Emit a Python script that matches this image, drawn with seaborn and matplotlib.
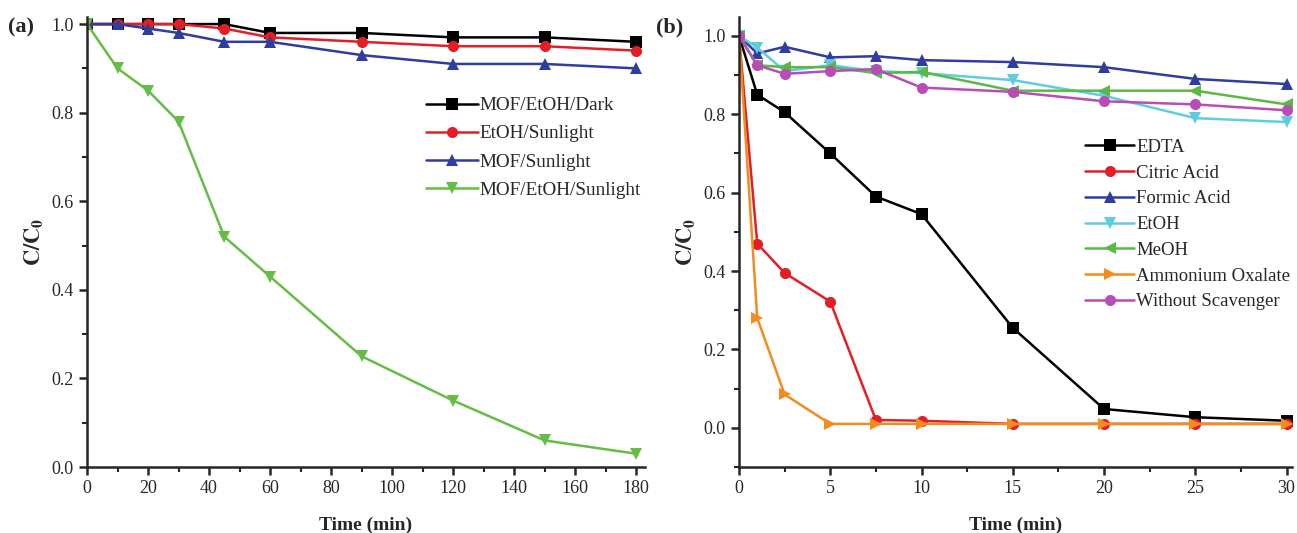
import pandas as pd
import numpy as np
import matplotlib.pyplot as plt
import seaborn as sns
from matplotlib.ticker import MultipleLocator

# ---------- datos panel (a) ----------
tiempo_a = [0, 10, 20, 30, 45, 60, 90, 120, 150, 180]
mof_etoh_dark = [1.0, 1.0, 1.0, 1.0, 1.0, 0.98, 0.98, 0.97, 0.97, 0.96]
etoh_sun = [1.0, 1.0, 1.0, 1.0, 0.99, 0.97, 0.96, 0.95, 0.95, 0.94]
mof_sun = [1.0, 1.0, 0.99, 0.98, 0.96, 0.96, 0.93, 0.91, 0.91, 0.90]
mof_etoh_sun = [1.0, 0.90, 0.85, 0.78, 0.52, 0.43, 0.25, 0.15, 0.06, 0.03]
series_a = ['MOF/EtOH/Dark', 'EtOH/Sunlight', 'MOF/Sunlight', 'MOF/EtOH/Sunlight']

# ---------- datos panel (b) ----------
tiempo_b = [0, 1, 2.5, 5, 7.5, 10, 15, 20, 25, 30]
edta = [1.0, 0.85, 0.805, 0.70, 0.59, 0.545, 0.255, 0.048, 0.027, 0.018]
citric = [1.0, 0.47, 0.395, 0.322, 0.02, 0.018, 0.01, 0.01, 0.01, 0.01]
formic = [1.0, 0.955, 0.972, 0.945, 0.948, 0.938, 0.933, 0.92, 0.89, 0.877]
etoh = [1.0, 0.97, 0.91, 0.925, 0.91, 0.905, 0.887, 0.847, 0.79, 0.78]
meoh = [1.0, 0.925, 0.92, 0.92, 0.905, 0.908, 0.86, 0.86, 0.86, 0.825]
oxalate = [1.0, 0.28, 0.085, 0.01, 0.01, 0.01, 0.01, 0.01, 0.01, 0.01]
without = [1.0, 0.925, 0.903, 0.91, 0.915, 0.868, 0.857, 0.833, 0.825, 0.81]
series_b = ['EDTA', 'Citric Acid', 'Formic Acid', 'EtOH', 'MeOH',
            'Ammonium Oxalate', 'Without Scavenger']

colores_a = {'MOF/EtOH/Dark': '#000000', 'EtOH/Sunlight': '#e41e26',
             'MOF/Sunlight': '#2e3d9e', 'MOF/EtOH/Sunlight': '#66bd45'}
marcadores_a = {'MOF/EtOH/Dark': 's', 'EtOH/Sunlight': 'o',
                'MOF/Sunlight': '^', 'MOF/EtOH/Sunlight': 'v'}
colores_b = {'EDTA': '#000000', 'Citric Acid': '#e41e26', 'Formic Acid': '#2e3d9e',
             'EtOH': '#5fcde0', 'MeOH': '#5cb846', 'Ammonium Oxalate': '#f28c1f',
             'Without Scavenger': '#b84db5'}
marcadores_b = {'EDTA': 's', 'Citric Acid': 'o', 'Formic Acid': '^', 'EtOH': 'v',
                'MeOH': '<', 'Ammonium Oxalate': '>', 'Without Scavenger': 'o'}

########### construccion de dataframes ###########
da = pd.DataFrame({'t': tiempo_a * 4,
                   'C': mof_etoh_dark + etoh_sun + mof_sun + mof_etoh_sun,
                   'serie': np.repeat(series_a, len(tiempo_a))})
db = pd.DataFrame({'t': tiempo_b * 7,
                   'C': edta + citric + formic + etoh + meoh + oxalate + without,
                   'serie': np.repeat(series_b, len(tiempo_b))})

sns.set_style('ticks')
plt.rcParams['font.family'] = ['Liberation Serif', 'DejaVu Serif']
plt.rcParams['mathtext.fontset'] = 'stix'
plt.rcParams['xtick.direction'] = 'out'
plt.rcParams['ytick.direction'] = 'out'

fig = plt.figure(figsize=(12.97, 5.33), dpi=100)
ax1 = fig.add_axes([87 / 1297, 1 - 467 / 533, 558 / 1297, 450 / 533])
ax2 = fig.add_axes([739 / 1297, 1 - 467 / 533, 553 / 1297, 450 / 533])

sns.lineplot(data=da, x='t', y='C', hue='serie', style='serie', hue_order=series_a,
             style_order=series_a, palette=colores_a, markers=marcadores_a,
             dashes=False, markersize=8, markeredgewidth=0, linewidth=1.8, ax=ax1)
sns.lineplot(data=db, x='t', y='C', hue='serie', style='serie', hue_order=series_b,
             style_order=series_b, palette=colores_b, markers=marcadores_b,
             dashes=False, markersize=8, markeredgewidth=0, linewidth=1.8, ax=ax2)

ax1.set_xlim(0, 182.9)
ax1.set_ylim(0, 1.016)
ax1.xaxis.set_major_locator(MultipleLocator(20))
ax1.xaxis.set_minor_locator(MultipleLocator(10))
ax1.yaxis.set_major_locator(MultipleLocator(0.2))
ax1.yaxis.set_minor_locator(MultipleLocator(0.1))

ax2.set_xlim(0, 30.3)
ax2.set_ylim(-0.1, 1.048)
ax2.xaxis.set_major_locator(MultipleLocator(5))
ax2.xaxis.set_minor_locator(MultipleLocator(2.5))
ax2.yaxis.set_major_locator(MultipleLocator(0.2))
ax2.yaxis.set_minor_locator(MultipleLocator(0.1))

for ax, letra in [(ax1, '(a)'), (ax2, '(b)')]:
    sns.despine(ax=ax)
    for s in ['left', 'bottom']:
        ax.spines[s].set_linewidth(1.8)
    ax.tick_params(which='major', length=6, width=1.8, labelsize=13)
    ax.tick_params(which='minor', length=3.5, width=1.5)
    ax.set_xlabel('Time (min)', fontsize=14, fontweight='bold', labelpad=14)
    ax.set_ylabel(r'$\mathbf{C/C_0}$', fontsize=16, labelpad=4)
    ax.yaxis.set_major_formatter(plt.FuncFormatter(lambda v, p: f'{v:.1f}'))
    ax.text(-0.142 if ax is ax1 else -0.15, 1.0, letra, transform=ax.transAxes,
            fontsize=16, fontweight='bold', va='top')

ax1.legend(frameon=False, fontsize=13.8, handlelength=2.7, handletextpad=0.1,
           labelspacing=0.56, loc='upper left', bbox_to_anchor=(0.577, 0.861))
ax2.legend(frameon=False, fontsize=13.5, handlelength=2.6, handletextpad=0.1,
           labelspacing=0.46, loc='upper left', bbox_to_anchor=(0.596, 0.767))

plt.savefig('out.png', dpi=100)
